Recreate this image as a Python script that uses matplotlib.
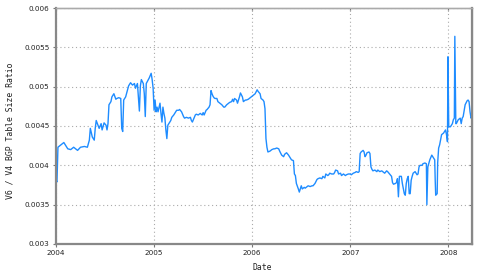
import matplotlib
matplotlib.use("Agg")
import matplotlib.pyplot as plt

# decimal year, v6/v4 ratio
dates = [
    2004.00, 2004.01, 2004.02, 2004.05, 2004.08, 2004.12, 2004.15, 2004.18, 2004.22, 2004.25,
    2004.29, 2004.32, 2004.34, 2004.35, 2004.37, 2004.39, 2004.40, 2004.41, 2004.44, 2004.46,
    2004.47, 2004.49, 2004.51, 2004.52, 2004.53, 2004.54, 2004.56, 2004.57, 2004.59, 2004.61,
    2004.62, 2004.64, 2004.66, 2004.67, 2004.68, 2004.69, 2004.71, 2004.73, 2004.74, 2004.76,
    2004.78, 2004.80, 2004.81, 2004.83, 2004.85, 2004.86, 2004.87, 2004.89, 2004.90, 2004.91,
    2004.92, 2004.95, 2004.97, 2004.98, 2004.99,
    2005.00, 2005.01, 2005.02, 2005.03, 2005.04, 2005.06, 2005.07, 2005.08, 2005.09, 2005.10,
    2005.11, 2005.12, 2005.13, 2005.14, 2005.15, 2005.17, 2005.18, 2005.20, 2005.21, 2005.23,
    2005.25, 2005.26, 2005.28, 2005.30, 2005.31, 2005.33, 2005.35, 2005.37, 2005.38, 2005.39,
    2005.41, 2005.42, 2005.43, 2005.45, 2005.47, 2005.49, 2005.50, 2005.51, 2005.53, 2005.54,
    2005.56, 2005.57, 2005.58, 2005.59, 2005.60, 2005.61, 2005.62, 2005.64, 2005.65, 2005.67,
    2005.69, 2005.71, 2005.72, 2005.74, 2005.76, 2005.77, 2005.79, 2005.80, 2005.81, 2005.82,
    2005.84, 2005.85, 2005.87, 2005.88, 2005.90, 2005.91, 2005.93, 2005.94, 2005.96, 2005.98,
    2005.99, 2006.01, 2006.03, 2006.05, 2006.06, 2006.08, 2006.09, 2006.11, 2006.12, 2006.13,
    2006.14, 2006.15, 2006.16, 2006.18, 2006.20, 2006.22, 2006.23, 2006.25, 2006.27, 2006.28,
    2006.30, 2006.32, 2006.33, 2006.35, 2006.37, 2006.39, 2006.40, 2006.42, 2006.43, 2006.44,
    2006.45, 2006.47, 2006.48, 2006.49, 2006.50, 2006.51, 2006.53, 2006.54, 2006.56, 2006.57,
    2006.59, 2006.61, 2006.62, 2006.64, 2006.66, 2006.67, 2006.69, 2006.71, 2006.72, 2006.74,
    2006.75, 2006.77, 2006.78, 2006.79, 2006.81, 2006.83, 2006.84, 2006.85, 2006.87, 2006.88,
    2006.90, 2006.91, 2006.93, 2006.95, 2006.96, 2006.98,
    2007.00, 2007.01, 2007.03, 2007.05, 2007.06, 2007.08, 2007.09, 2007.10, 2007.11, 2007.13,
    2007.14, 2007.15, 2007.16, 2007.17, 2007.19, 2007.20, 2007.21, 2007.22, 2007.23, 2007.25,
    2007.27, 2007.28, 2007.30, 2007.32, 2007.33, 2007.35, 2007.37, 2007.38, 2007.40, 2007.42,
    2007.43, 2007.44, 2007.46, 2007.47, 2007.48, 2007.49, 2007.50, 2007.52, 2007.53, 2007.55,
    2007.56, 2007.57, 2007.58, 2007.59, 2007.60, 2007.61, 2007.62, 2007.63, 2007.64, 2007.66,
    2007.68, 2007.69, 2007.70, 2007.71, 2007.73, 2007.74, 2007.76, 2007.775, 2007.78, 2007.79,
    2007.81, 2007.82, 2007.83, 2007.84, 2007.85, 2007.86, 2007.865, 2007.87, 2007.885, 2007.89,
    2007.90, 2007.91, 2007.93, 2007.95, 2007.97, 2007.98, 2007.99, 2007.995, 2008.003, 2008.01,
    2008.02, 2008.04, 2008.05, 2008.06, 2008.065, 2008.07, 2008.075, 2008.08, 2008.10, 2008.12,
    2008.13, 2008.14, 2008.15, 2008.17, 2008.19, 2008.20, 2008.21, 2008.22, 2008.23, 2008.24,
]
ratio = [
    0.00381, 0.00379, 0.00423, 0.00426, 0.00429, 0.00421, 0.00420, 0.00423, 0.00419, 0.00423,
    0.00424, 0.00423, 0.00432, 0.00447, 0.00436, 0.00432, 0.00447, 0.00457, 0.00447, 0.00453,
    0.00445, 0.00454, 0.00451, 0.00445, 0.00453, 0.00477, 0.00481, 0.00487, 0.00491, 0.00484,
    0.00485, 0.00486, 0.00485, 0.00447, 0.00443, 0.00483, 0.00487, 0.00496, 0.00501, 0.00505,
    0.00502, 0.00504, 0.00498, 0.00504, 0.00469, 0.00501, 0.00509, 0.00504, 0.00491, 0.00462,
    0.00504, 0.00511, 0.00517, 0.00509, 0.00498,
    0.00470, 0.00483, 0.00468, 0.00474, 0.00468, 0.00479, 0.00466, 0.00455, 0.00474, 0.00466,
    0.00460, 0.00445, 0.00434, 0.00451, 0.00453, 0.00457, 0.00461, 0.00464, 0.00466, 0.00470,
    0.00470, 0.00471, 0.00468, 0.00462, 0.00460, 0.00461, 0.00460, 0.00461, 0.00457, 0.00455,
    0.00461, 0.00464, 0.00465, 0.00464, 0.00466, 0.00464, 0.00467, 0.00464, 0.00470, 0.00471,
    0.00474, 0.00477, 0.00495, 0.00491, 0.00488, 0.00486, 0.00485, 0.00485, 0.00481, 0.00479,
    0.00477, 0.00474, 0.00474, 0.00477, 0.00479, 0.00480, 0.00481, 0.00484, 0.00481, 0.00485,
    0.00483, 0.00479, 0.00487, 0.00492, 0.00487, 0.00481, 0.00483, 0.00483, 0.00484, 0.00486,
    0.00487, 0.00489, 0.00491, 0.00496, 0.00494, 0.00491, 0.00485, 0.00483, 0.00481, 0.00472,
    0.00434, 0.00423, 0.00417, 0.00418, 0.00420, 0.00421, 0.00421, 0.00422, 0.00421, 0.00418,
    0.00413, 0.00411, 0.00414, 0.00416, 0.00413, 0.00409, 0.00407, 0.00406, 0.00389, 0.00387,
    0.00377, 0.00370, 0.00366, 0.00370, 0.00374, 0.00370, 0.00372, 0.00371, 0.00373, 0.00374,
    0.00373, 0.00374, 0.00374, 0.00377, 0.00382, 0.00383, 0.00384, 0.00383, 0.00386, 0.00384,
    0.00389, 0.00387, 0.00388, 0.00390, 0.00389, 0.00389, 0.00391, 0.00394, 0.00393, 0.00389,
    0.00390, 0.00387, 0.00389, 0.00387, 0.00388, 0.00389,
    0.00389, 0.00388, 0.00390, 0.00391, 0.00392, 0.00391, 0.00392, 0.00415, 0.00417, 0.00419,
    0.00417, 0.00411, 0.00413, 0.00416, 0.00417, 0.00415, 0.00398, 0.00395, 0.00393, 0.00394,
    0.00392, 0.00394, 0.00392, 0.00393, 0.00392, 0.00390, 0.00393, 0.00392, 0.00389, 0.00386,
    0.00378, 0.00376, 0.00377, 0.00378, 0.00383, 0.00360, 0.00386, 0.00386, 0.00377, 0.00364,
    0.00362, 0.00377, 0.00383, 0.00386, 0.00364, 0.00364, 0.00381, 0.00386, 0.00390, 0.00392,
    0.00388, 0.00389, 0.00398, 0.00400, 0.00400, 0.00402, 0.00403, 0.00402, 0.00350, 0.00398,
    0.00407, 0.00410, 0.00413, 0.00411, 0.00409, 0.00407, 0.00381, 0.00362, 0.00364, 0.00403,
    0.00422, 0.00426, 0.00439, 0.00441, 0.00445, 0.00439, 0.00430, 0.00538, 0.00449, 0.00449,
    0.00449, 0.00453, 0.00458, 0.00460, 0.00564, 0.00508, 0.00453, 0.00453, 0.00458, 0.00460,
    0.00453, 0.00460, 0.00462, 0.00477, 0.00482, 0.00483, 0.00481, 0.00468, 0.00460, 0.00462,
]

year_ticks = [2004, 2005, 2006, 2007, 2008]
year_labels = ["2004", "2005", "2006", "2007", "2008"]
ratio_ticks = [0.003, 0.0035, 0.004, 0.0045, 0.005, 0.0055, 0.006]
ratio_labels = ["0.003", "0.0035", "0.004", "0.0045", "0.005", "0.0055", "0.006"]

plt.rcParams["font.family"] = "DejaVu Sans"
fig = plt.figure(figsize=(4.86, 2.74), dpi=100)
ax = fig.add_axes([0.1152, 0.1095, 0.8560, 0.8613])

ax.plot(dates, ratio, color="#1e8cff", lw=1.0)

ax.set_xlim(2004, 2008.24)
ax.set_ylim(0.003, 0.006)
ax.set_xticks(year_ticks)
ax.set_xticklabels(year_labels)
ax.set_yticks(ratio_ticks)
ax.set_yticklabels(ratio_labels)
ax.grid(True, color="#aaaaaa", ls=(0, (1, 2.5)), lw=0.8)

ax.tick_params(labelsize=5.2, length=2.5, width=0.8, color="#777777", pad=2,
               labelcolor="#222222")
for name, sp in ax.spines.items():
    sp.set_color("#888888")
    sp.set_linewidth(1.6)
ax.spines["top"].set_color("#aaaaaa")
ax.spines["top"].set_linewidth(1.0)

top = ax.secondary_xaxis("top")
top.set_xticks(year_ticks)
top.set_xticklabels([])
top.tick_params(direction="in", length=2.5, width=0.8, color="#777777")
right = ax.secondary_yaxis("right")
right.set_yticks(ratio_ticks)
right.set_yticklabels([])
right.tick_params(direction="in", length=2.5, width=0.8, color="#777777")

ax.set_xlabel("Date", fontsize=5.9, family="DejaVu Sans Mono", color="#222222")
ax.set_ylabel("V6 / V4 BGP Table Size Ratio", fontsize=5.9,
              family="DejaVu Sans Mono", color="#222222")
ax.xaxis.set_label_coords(0.495, -0.08)
ax.yaxis.set_label_coords(-0.099, 0.48)

fig.savefig("out.png", dpi=100)
